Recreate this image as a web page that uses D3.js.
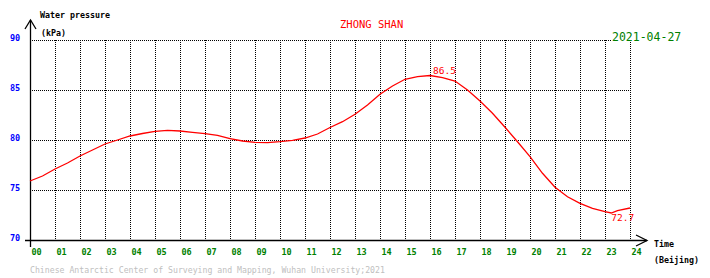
<!DOCTYPE html>
<html>
<head>
<meta charset="utf-8">
<script src="https://cdn.jsdelivr.net/npm/d3@7/dist/d3.min.js"></script>
<style>
  html, body { margin: 0; padding: 0; background: #fff; }
  svg { display: block; }
  text { font-family: "DejaVu Sans Mono", "Liberation Mono", monospace; }
</style>
</head>
<body>
<div id="chart"></div>
<script>
// ---- data ----
const hours = [0, 0.5, 1, 1.5, 2, 2.5, 3, 3.5, 4, 4.5, 5, 5.5, 6, 6.5, 7, 7.5, 8, 8.5, 9, 9.5,
  10, 10.5, 11, 11.5, 12, 12.5, 13, 13.5, 14, 14.5, 15, 15.5, 16, 16.5, 17, 17.5, 18, 18.5,
  19, 19.5, 20, 20.5, 21, 21.5, 22, 22.5, 23, 23.25, 23.5, 24];
const pressure = [75.9, 76.4, 77.1, 77.7, 78.4, 79.0, 79.6, 80.0, 80.4, 80.65, 80.87, 80.97, 80.9, 80.77,
  80.63, 80.47, 80.13, 79.9, 79.77, 79.73, 79.83, 79.97, 80.2, 80.6, 81.25, 81.83, 82.57, 83.5,
  84.57, 85.4, 86.07, 86.33, 86.45, 86.23, 85.9, 85.0, 83.9, 82.67, 81.27, 79.83, 78.33, 76.67,
  75.27, 74.33, 73.67, 73.17, 72.83, 72.7, 72.93, 73.2];
const xTicks = d3.range(0, 25);
const yTicks = [70, 75, 80, 85, 90];
const maxLabel = "86.5";
const minLabel = "72.7";
const station = "ZHONG SHAN";
const dateLabel = "2021-04-27";
const footer = "Chinese Antarctic Center of Surveying and Mapping, Wuhan University;2021";

// ---- layout ----
const W = 710, H = 278;
const svg = d3.select("#chart").append("svg").attr("width", W).attr("height", H);
const x = d3.scaleLinear().domain([0, 24]).range([30, 630]);
const y = d3.scaleLinear().domain([70, 90]).range([240, 40]);

// grid
const grid = svg.append("g").attr("stroke", "#000").attr("stroke-width", 1)
  .attr("stroke-dasharray", "1,1").attr("shape-rendering", "crispEdges");
grid.selectAll("line.h").data(yTicks.filter(v => v > 70)).join("line")
  .attr("class", "h")
  .attr("x1", x(0)).attr("x2", x(24))
  .attr("y1", d => Math.round(y(d)) + 0.5).attr("y2", d => Math.round(y(d)) + 0.5);
grid.selectAll("line.v").data(xTicks.filter(v => v > 0)).join("line")
  .attr("class", "v")
  .attr("x1", d => Math.round(x(d)) + 0.5).attr("x2", d => Math.round(x(d)) + 0.5)
  .attr("y1", y(90)).attr("y2", y(70));

// axes lines with open arrows
const ax = svg.append("g").attr("stroke", "#000").attr("fill", "none").attr("stroke-width", 1.3);
ax.append("line").attr("x1", 30.5).attr("x2", 30.5).attr("y1", 20).attr("y2", 247);
ax.append("path").attr("d", "M25,29 L30.5,20 L36,29");
ax.append("line").attr("x1", 25).attr("x2", 647).attr("y1", 240.5).attr("y2", 240.5);
ax.append("path").attr("d", "M636,235 L647,240.5 L636,246");

// x tick labels via axis
const xAxis = d3.axisBottom(x).tickValues(xTicks).tickFormat(d3.format("02d")).tickSize(0);
const gx = svg.append("g").attr("transform", "translate(0,247)").call(xAxis);
gx.select(".domain").remove();
gx.selectAll("text").attr("fill", "#008000").attr("font-size", 8.5).attr("font-weight", "bold")
  .attr("text-anchor", "start").attr("dx", 1).attr("dy", 0).attr("y", 8);

// y tick labels via axis
const yAxis = d3.axisLeft(y).tickValues(yTicks).tickFormat(d3.format("d")).tickSize(0);
const gy = svg.append("g").attr("transform", "translate(10,0)").call(yAxis);
gy.select(".domain").remove();
gy.selectAll("text").attr("fill", "#0000ff").attr("font-size", 8.5).attr("font-weight", "bold")
  .attr("text-anchor", "start").attr("x", 0).attr("dy", 0).attr("y", 0);

// axis titles
const t = svg.append("g").attr("font-size", 8.3).attr("font-weight", "bold").attr("fill", "#000");
t.append("text").attr("x", 40).attr("y", 18).text("Water pressure");
t.append("text").attr("x", 41).attr("y", 36).text("(kPa)");
t.append("text").attr("x", 654).attr("y", 247).text("Time");
t.append("text").attr("x", 654).attr("y", 263).text("(Beijing)");

// title & date
svg.append("text").attr("x", 340).attr("y", 28).attr("font-size", 10.5)
  .attr("fill", "#ff0000").text(station);
svg.append("rect").attr("x", 611).attr("y", 30).attr("width", 62).attr("height", 12).attr("fill", "#fff");
svg.append("text").attr("x", 612).attr("y", 41).attr("font-size", 11.5)
  .attr("fill", "#008000").text(dateLabel);

// data line
const line = d3.line().x((d, i) => x(hours[i])).y(d => y(d));
svg.append("path").datum(pressure).attr("d", line)
  .attr("fill", "none").attr("stroke", "#ff0000").attr("stroke-width", 1.3);

// max/min labels
const iMax = d3.maxIndex(pressure), iMin = d3.minIndex(pressure);
svg.append("text").attr("x", x(hours[iMax]) + 3).attr("y", y(pressure[iMax]) - 2)
  .attr("font-size", 9.5).attr("fill", "#ff0000").text(maxLabel);
svg.append("text").attr("x", x(hours[iMin]) + 0).attr("y", y(pressure[iMin]) + 8)
  .attr("font-size", 9.5).attr("fill", "#ff0000").text(minLabel);

// footer
svg.append("text").attr("x", 30).attr("y", 273).attr("font-size", 8.2)
  .attr("fill", "#c0c0c0").text(footer);
</script>
</body>
</html>
